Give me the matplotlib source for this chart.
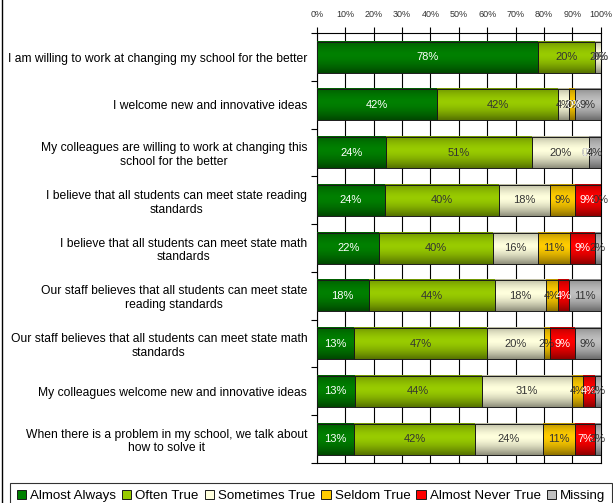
import numpy as np
import matplotlib.pyplot as plt
from matplotlib.colors import to_rgb
from matplotlib.patches import Patch, Rectangle

plt.rcParams['font.family'] = ['Liberation Sans', 'DejaVu Sans']

statements = [
    "I am willing to work at changing my school for the better",
    "I welcome new and innovative ideas",
    "My colleagues are willing to work at changing this\nschool for the better",
    "I believe that all students can meet state reading\nstandards",
    "I believe that all students can meet state math\nstandards",
    "Our staff believes that all students can meet state\nreading standards",
    "Our staff believes that all students can meet state math\nstandards",
    "My colleagues welcome new and innovative ideas",
    "When there is a problem in my school, we talk about\nhow to solve it",
]
responses = ["Almost Always", "Often True", "Sometimes True",
             "Seldom True", "Almost Never True", "Missing"]

almost_always = [78, 42, 24, 24, 22, 18, 13, 13, 13]
often_true = [20, 42, 51, 40, 40, 44, 47, 44, 42]
sometimes_true = [2, 4, 20, 18, 16, 18, 20, 31, 24]
seldom_true = [0, 2, 0, 9, 11, 4, 2, 4, 11]
almost_never = [0, 0, 0, 9, 9, 4, 9, 4, 7]
missing = [0, 9, 4, 0, 2, 11, 9, 2, 2]

colors = ["#008000", "#99CC00", "#FFFFDD", "#FFCC00", "#FF0000", "#C0C0C0"]
text_colors = ["white", "#333333", "#333333", "#333333", "white", "#333333"]

values = np.array([almost_always, often_true, sometimes_true,
                   seldom_true, almost_never, missing], dtype=float)
shares = values / values.sum(axis=0) * 100


def shaded(color, n=40):
    # darker at top and bottom edges, bright in the middle
    t = np.linspace(-1, 1, n)
    k = 1 - 0.35 * np.abs(t + 0.15) ** 1.6
    return np.clip(np.array(to_rgb(color))[None, :] * k[:, None], 0, 1)[:, None, :]


fig = plt.figure(figsize=(6.13, 5.03), dpi=100)
ax = fig.add_axes([0.517, 0.0795, 0.463, 0.8545])

y = np.arange(len(statements))
h = 0.65
left = np.zeros(len(statements))
for i, name in enumerate(responses):
    grad = shaded(colors[i])
    for j in range(len(statements)):
        w = shares[i][j]
        if w > 0:
            ax.imshow(grad, extent=[left[j], left[j] + w, y[j] + h / 2, y[j] - h / 2],
                      aspect="auto", interpolation="bilinear", zorder=3)
        ax.text(left[j] + w / 2, y[j], f"{int(values[i][j])}%",
                ha="center", va="center", fontsize=8, color=text_colors[i], zorder=5)
    ax.barh(y, shares[i], left=left, height=h, facecolor="none",
            edgecolor="#1a1a1a", linewidth=0.7, zorder=4)
    left += shares[i]

ax.set_xlim(0, 100)
ax.set_ylim(len(statements) - 0.5, -0.5)
ax.set_xticks(np.arange(0, 101, 10))
ax.set_xticklabels([f"{t}%" for t in range(0, 101, 10)], fontsize=6.5, color="#333333")
ax.xaxis.tick_top()
ax.tick_params(axis="x", length=4, width=0.8, pad=6)
ax.set_yticks(y)
ax.set_yticklabels(statements, fontsize=8.7, multialignment="center")
ax.set_yticks(np.arange(-0.5, len(statements), 1), minor=True)
ax.tick_params(axis="y", which="major", length=0, pad=7)
ax.tick_params(axis="y", which="minor", length=4, width=0.8)
ax.grid(axis="x", color="black", linewidth=0.8, zorder=0)
for s in ax.spines.values():
    s.set_linewidth(0.8)

handles = [Patch(facecolor=c, edgecolor="#1a1a1a", linewidth=0.7) for c in colors]
leg = fig.legend(handles, responses, loc="lower left", bbox_to_anchor=(10 / 613, -0.012),
                 ncol=6, fontsize=9.6, frameon=True, fancybox=False, edgecolor="black",
                 handlelength=0.7, handleheight=0.7, handletextpad=0.3,
                 columnspacing=0.45, borderpad=0.5, borderaxespad=0)
leg.get_frame().set_linewidth(0.8)

fig.add_artist(Rectangle((2 / 613, -0.01), 1.0, 1.02, transform=fig.transFigure,
                         fill=False, edgecolor="black", linewidth=1.0))

fig.savefig("out.png", dpi=100)
